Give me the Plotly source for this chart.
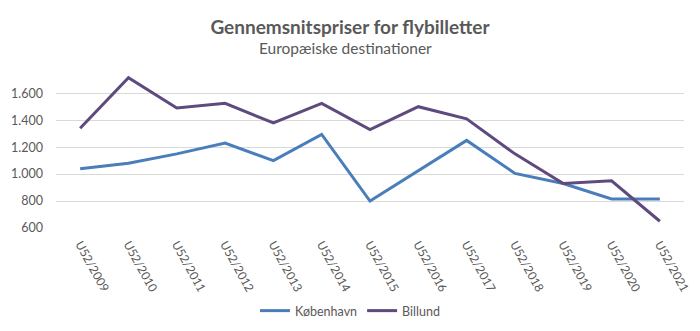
import plotly.graph_objects as go

categories = ["U52/2009", "U52/2010", "U52/2011", "U52/2012", "U52/2013", "U52/2014", "U52/2015",
              "U52/2016", "U52/2017", "U52/2018", "U52/2019", "U52/2020", "U52/2021"]
kobenhavn = [1040, 1080, 1150, 1230, 1100, 1295, 800, 1025, 1250, 1005, 930, 815, 815]
billund = [1340, 1715, 1490, 1525, 1380, 1525, 1330, 1500, 1410, 1150, 930, 950, 650]
y_ticks = [600, 800, 1000, 1200, 1400, 1600]

FONT = "Lato"
GRAY = "#595959"

fig = go.Figure()
fig.add_trace(go.Scatter(x=categories, y=kobenhavn, name="København", mode="lines",
                         line=dict(color="#4A7EBB", width=3)))
fig.add_trace(go.Scatter(x=categories, y=billund, name="Billund", mode="lines",
                         line=dict(color="#5F4A7E", width=3)))

PLOT_TOP, PLOT_BOT = 73, 228
def paper_y(px):
    return (PLOT_BOT - px) / (PLOT_BOT - PLOT_TOP)

fig.update_layout(
    width=700, height=331,
    margin=dict(l=56, r=16, t=PLOT_TOP, b=331 - PLOT_BOT, autoexpand=False),
    paper_bgcolor="white", plot_bgcolor="white",
    separators=",.",
    font=dict(family=FONT, color=GRAY, size=12),
    title=dict(text="<b>Gennemsnitspriser for flybilletter</b>", x=0.5, xref="container", xanchor="center",
               y=1 - 27 / 331, yref="container", yanchor="middle",
               font=dict(family=FONT, size=19, color=GRAY)),
    annotations=[dict(text="Europæiske destinationer", x=(345 - 56) / 628, xref="paper", xanchor="center",
                      y=paper_y(48), yref="paper", yanchor="middle", showarrow=False,
                      font=dict(family=FONT, size=15.5, color=GRAY))],
    showlegend=True,
    legend=dict(orientation="h", x=0.5, xref="container", xanchor="center", y=1 - 311 / 331, yref="container",
                yanchor="middle", font=dict(size=12.5, color=GRAY), traceorder="normal"),
)

fig.update_xaxes(type="category", range=[-0.5, 12.5], tickangle=61, showgrid=False, showline=False,
                 automargin=False,
                 ticks="", tickfont=dict(size=12, color=GRAY), ticklabelstandoff=6)
fig.update_yaxes(range=[600, 1750], tickvals=y_ticks, tickformat=",d", showgrid=True, gridcolor="#D9D9D9",
                 gridwidth=1, zeroline=False, showline=False, ticks="", automargin=False,
                 tickfont=dict(size=12.5, color=GRAY), ticklabelstandoff=12)

fig.write_html("out.html")
